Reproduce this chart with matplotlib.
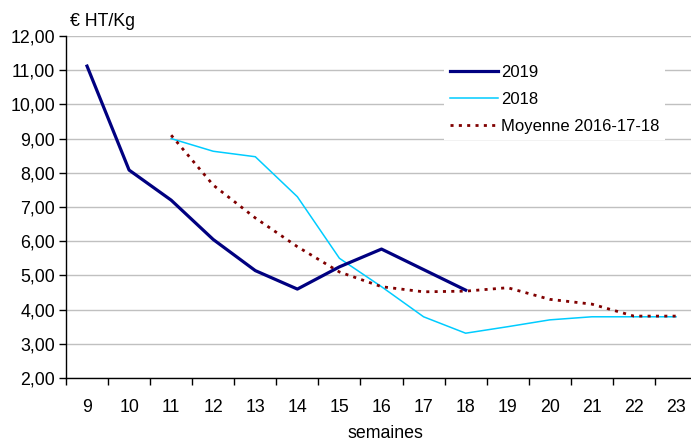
import matplotlib
matplotlib.use("Agg")
import matplotlib.pyplot as plt
from matplotlib.ticker import FixedLocator, FuncFormatter

plt.rcParams['font.family'] = ['Liberation Sans', 'DejaVu Sans']

weeks = [9, 10, 11, 12, 13, 14, 15, 16, 17, 18, 19, 20, 21, 22, 23]
y2019 = [11.12, 8.08, 7.2, 6.05, 5.14, 4.6, 5.25, 5.77, 5.17, 4.57]
y2018 = [None, None, 9.0, 8.63, 8.47, 7.3, 5.5, 4.67, 3.79, 3.31, 3.5, 3.7, 3.79, 3.79, 3.79]
moyenne = [None, None, 9.1, 7.64, 6.68, 5.84, 5.1, 4.67, 4.52, 4.54, 4.64, 4.3, 4.16, 3.81, 3.81]

pos = list(range(len(weeks)))
fs = 12.8

def pts(vals):
    xs = [p for p, v in zip(pos, vals) if v is not None]
    ys = [v for v in vals if v is not None]
    return xs, ys

fig = plt.figure(figsize=(6.91, 4.41), dpi=100)
ax = fig.add_axes([66 / 691, 63 / 441, 631 / 691, 342 / 441])

x, y = pts(y2019)
ax.plot(x, y, color='#000080', lw=2.3, label='2019', zorder=4)
x, y = pts(y2018)
ax.plot(x, y, color='#00ccff', lw=1.1, label='2018', zorder=3)
x, y = pts(moyenne)
ax.plot(x, y, color='#800000', lw=2.0, ls=(0, (1.1, 1.9)), dash_capstyle='butt',
        label='Moyenne 2016-17-18', zorder=3)

ax.set_xlim(-0.5, len(weeks) - 0.5)
ax.set_ylim(2, 12)
ax.set_yticks(range(2, 13))
ax.yaxis.set_major_formatter(FuncFormatter(lambda v, p: f"{v:.2f}".replace('.', ',')))
ax.set_xticks(pos)
ax.set_xticklabels([str(w) for w in weeks])
ax.xaxis.set_minor_locator(FixedLocator([p - 0.5 for p in pos] + [len(weeks) - 0.5]))
ax.tick_params(axis='x', which='major', length=0, pad=15, labelsize=fs)
ax.tick_params(axis='x', which='minor', length=5, width=1, direction='out')
ax.tick_params(axis='y', length=5, width=1, direction='out', labelsize=fs, pad=3)

ax.grid(axis='y', color='#c0c0c0', lw=1)
ax.set_axisbelow(True)
for s in ['top', 'right']:
    ax.spines[s].set_visible(False)
ax.spines['left'].set_linewidth(1)
ax.spines['bottom'].set_linewidth(1)

fig.text(70 / 691, 1 - 22 / 441, '€ HT/Kg', fontsize=fs, va='center', ha='left')
fig.text(385 / 691, 1 - 434 / 441, 'semaines', fontsize=fs, va='center', ha='center')

leg = ax.legend(loc='upper left', bbox_to_anchor=(370 / 631, 0.958), frameon=True, fancybox=False,
                edgecolor='none', facecolor='white', framealpha=1, fontsize=12,
                handlelength=2.85, handletextpad=0.2, labelspacing=0.74, borderpad=0.35)

fig.savefig('out.png', dpi=100)
